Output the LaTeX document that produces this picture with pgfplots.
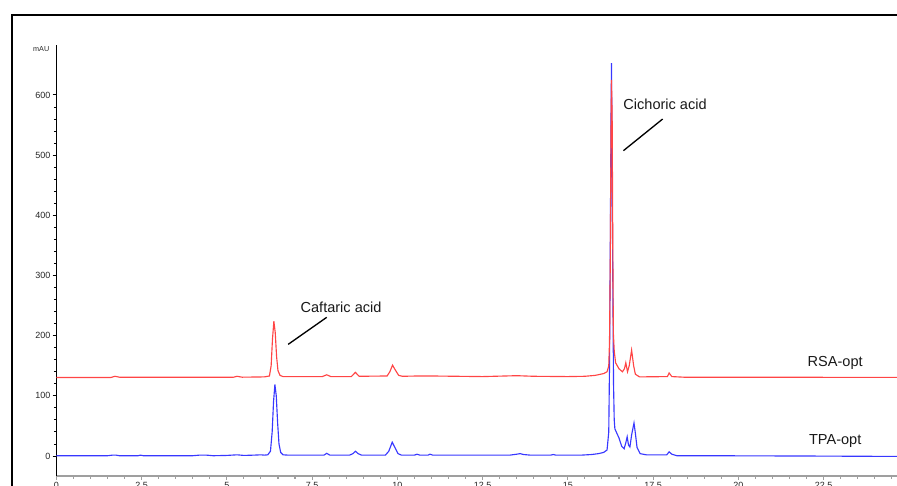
\documentclass[border=0pt]{standalone}
\usepackage{pgfplots}
\pgfplotsset{compat=1.18}
\usepackage{fontspec}
\setmainfont{Liberation Sans}
\definecolor{rsa}{rgb}{1,0.27,0.27}
\definecolor{tpa}{rgb}{0.22,0.22,1}
\begin{document}
\begin{tikzpicture}
\useasboundingbox (0pt,0pt) rectangle (672.75pt,-364.5pt);
\clip (0pt,0pt) rectangle (672.75pt,-364.5pt);
\draw[line width=1.1pt,black] (9pt,-400pt) -- (9pt,-11.25pt) -- (700pt,-11.25pt);
\node[anchor=east,inner sep=0pt,font=\fontsize{5.4}{6}\selectfont,text=black!85] at (37.1pt,-36.75pt) {mAU};
\begin{axis}[
  at={(42.225pt,-357pt)}, anchor=south west,
  scale only axis, width=665pt, height=323.25pt,
  xmin=0, xmax=26, ymin=-33.2, ymax=683,
  axis lines=left,
  x axis line style={-,gray!75,line width=1pt},
  y axis line style={-,black,line width=0.9pt},
  xtick={0,2.5,...,25}, minor x tick num=4,
  ytick={0,100,...,600}, minor y tick num=4,
  tick align=outside,
  major tick length=2.8pt, minor tick length=1.9pt,
  xtick style={gray!75,line width=0.8pt},
  ytick style={black,line width=0.7pt},
  tick label style={font=\fontsize{6.75}{7}\selectfont,text=black!85},
  /pgf/number format/assume math mode=true,
  yticklabel style={inner sep=1.5pt},
  xticklabel style={inner sep=1.5pt},
  clip=false,
]
\addplot[tpa,line width=0.85pt] coordinates {
(0,0.5) (1.5,0.5) (1.65,1.5) (1.75,1.5) (1.85,0.5) (2.4,0.5) (2.47,1.5) (2.55,0.5)
(4.0,0.5) (4.2,1.5) (4.4,1.5) (4.6,0.5) (5.0,1) (5.3,2) (5.5,1) (5.8,1.5) (6.0,2) (6.1,1.5) (6.2,2)
(6.28,8) (6.33,40) (6.37,90) (6.41,119) (6.45,100) (6.49,55) (6.53,20) (6.58,6) (6.65,2) (6.8,1.5)
(7.5,1.5) (7.85,1.5) (7.93,4.5) (8.02,1.5) (8.6,1.5) (8.7,4) (8.77,8) (8.85,4) (8.95,1.5)
(9.65,1.5) (9.75,8) (9.85,23) (9.93,14) (10.02,4) (10.12,1.5) (10.5,1.5) (10.58,3) (10.66,1.5)
(10.9,1.5) (10.96,3) (11.04,1.5) (13.3,1.5) (13.5,3) (13.6,4) (13.7,2.5) (13.9,1.5) (14.5,1.5)
(14.57,2.5) (14.65,1.5) (15.4,1.5) (15.7,2.5) (15.9,4) (16.05,6) (16.15,10) (16.20,40)
(16.222,150) (16.246,360) (16.266,560) (16.28,653) (16.30,450) (16.32,280) (16.34,120)
(16.36,60) (16.38,45) (16.42,40) (16.50,30) (16.58,16) (16.65,12) (16.70,22) (16.74,32)
(16.78,18) (16.82,15) (16.87,35) (16.94,55) (16.98,38) (17.03,14) (17.12,4) (17.3,2)
(17.90,2) (17.97,7) (18.05,3) (18.2,0.5) (19,0.5) (22,0) (24,-0.5) (26,-0.5)
};
\addplot[rsa,line width=0.85pt] coordinates {
(0,130.5) (1.6,130.5) (1.72,132.5) (1.85,131) (5.2,131) (5.3,132.5) (5.45,131) (6.1,131.5)
(6.25,133) (6.30,150) (6.34,195) (6.38,224) (6.42,205) (6.46,165) (6.50,142) (6.56,134) (6.65,132)
(7.8,132) (7.93,135) (8.05,132) (8.65,132) (8.77,139) (8.88,132.5) (9.7,133) (9.78,140) (9.86,151)
(9.94,143) (10.04,134) (10.15,132.5) (10.6,133) (11,133) (12.5,132) (13.5,133.5) (14.0,132.5)
(15.0,132) (15.5,132.5) (15.8,134) (16.05,137) (16.15,140) (16.20,150) (16.222,190) (16.246,330)
(16.266,540) (16.28,625) (16.30,560) (16.32,330) (16.335,204) (16.36,175) (16.40,155) (16.50,145)
(16.60,140) (16.66,145) (16.70,155) (16.75,140) (16.80,150) (16.87,176) (16.93,150) (16.98,136)
(17.1,131.5) (17.92,132) (17.97,138) (18.05,132) (18.4,131) (20,131) (26,130.5)
};
\node[font=\fontsize{10.9}{13}\selectfont,text=black!90] at (axis cs:8.35,247.6) {Caftaric acid};
\draw[black,line width=1pt] (axis cs:6.80,185.6) -- (axis cs:7.93,230.5);
\node[font=\fontsize{10.9}{13}\selectfont,text=black!90] at (axis cs:17.85,585) {Cichoric acid};
\draw[black,line width=1pt] (axis cs:16.63,507.4) -- (axis cs:17.78,560);
\node[font=\fontsize{10.9}{13}\selectfont,text=black!90] at (axis cs:22.84,154.6) {RSA-opt};
\node[font=\fontsize{10.9}{13}\selectfont,text=black!90] at (axis cs:22.84,24.9) {TPA-opt};
\end{axis}
\end{tikzpicture}
\end{document}
